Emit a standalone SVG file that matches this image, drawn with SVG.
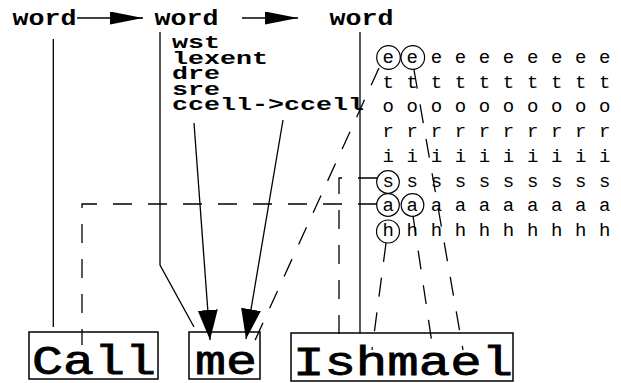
<svg xmlns="http://www.w3.org/2000/svg" width="621" height="383" viewBox="0 0 621 383">
<defs>
<marker id="ahTop" markerUnits="userSpaceOnUse" markerWidth="34" markerHeight="14" refX="33" refY="6.5" orient="auto"><path d="M0,0 L33,6.5 L0,13 z" fill="#000"/></marker>
<marker id="ahBig" markerUnits="userSpaceOnUse" markerWidth="31" markerHeight="21" refX="30" refY="10" orient="auto"><path d="M0,0 L30,10 L0,20 z" fill="#000"/></marker>
<style>
.w{font-family:"Liberation Mono","Courier New",monospace;font-weight:bold;font-size:22px;fill:#000}
.lab{font-family:"Liberation Mono","Courier New",monospace;font-weight:bold;font-size:18px;fill:#000}
.g{font-family:"Liberation Mono","Courier New",monospace;font-size:19px;fill:#000}
.big{font-family:"Liberation Mono","Courier New",monospace;font-size:40px;fill:#000;stroke:#000;stroke-width:0.8}
.box{fill:none;stroke:#000;stroke-width:1.5}
.ln{fill:none;stroke:#000;stroke-width:1.3}
.da{fill:none;stroke:#000;stroke-width:1.3;stroke-dasharray:19 16}
.c{fill:none;stroke:#000;stroke-width:1.2}
</style>
</defs>
<rect width="621" height="383" fill="#fff"/>
<g id="word1"><text class="w" x="12.5" y="25" textLength="64" lengthAdjust="spacingAndGlyphs">word</text></g>
<g id="word2"><text class="w" x="154.5" y="25" textLength="64" lengthAdjust="spacingAndGlyphs">word</text></g>
<g id="word3"><text class="w" x="329.5" y="25" textLength="64" lengthAdjust="spacingAndGlyphs">word</text></g>
<g id="fields">
<text class="lab" x="172" y="48" textLength="48" lengthAdjust="spacingAndGlyphs">wst</text>
<text class="lab" x="172" y="63.5" textLength="96" lengthAdjust="spacingAndGlyphs">lexent</text>
<text class="lab" x="172" y="79" textLength="48" lengthAdjust="spacingAndGlyphs">dre</text>
<text class="lab" x="172" y="94.5" textLength="48" lengthAdjust="spacingAndGlyphs">sre</text>
<text class="lab" x="172" y="110" textLength="192" lengthAdjust="spacingAndGlyphs">ccell-&gt;ccell</text>
</g>
<g id="grid">
<text class="g" x="382.5" y="63" textLength="228" lengthAdjust="spacing">e e e e e e e e e e</text>
<text class="g" x="382.5" y="88" textLength="228" lengthAdjust="spacing">t t t t t t t t t t</text>
<text class="g" x="382.5" y="112" textLength="228" lengthAdjust="spacing">o o o o o o o o o o</text>
<text class="g" x="382.5" y="137" textLength="228" lengthAdjust="spacing">r r r r r r r r r r</text>
<text class="g" x="382.5" y="162" textLength="228" lengthAdjust="spacing">i i i i i i i i i i</text>
<text class="g" x="382.5" y="187" textLength="228" lengthAdjust="spacing">s s s s s s s s s s</text>
<text class="g" x="382.5" y="211" textLength="228" lengthAdjust="spacing">a a a a a a a a a a</text>
<text class="g" x="382.5" y="236" textLength="228" lengthAdjust="spacing">h h h h h h h h h h</text>
<circle class="c" cx="388.5" cy="57.5" r="11.8"/>
<circle class="c" cx="412.8" cy="57.5" r="11.8"/>
<circle class="c" cx="388" cy="182" r="11.3"/>
<circle class="c" cx="388" cy="205" r="11.3"/>
<circle class="c" cx="412.5" cy="205" r="11.3"/>
<circle class="c" cx="388" cy="231.5" r="11.5"/>
</g>
<g id="box-call"><rect class="box" x="29" y="332" width="129" height="47"/><text class="big" x="32" y="374" textLength="124" lengthAdjust="spacingAndGlyphs">Call</text></g>
<g id="box-me"><rect class="box" x="189" y="332" width="71" height="47"/><text class="big" x="195" y="374" textLength="62" lengthAdjust="spacingAndGlyphs">me</text></g>
<g id="box-ishmael"><rect class="box" x="291" y="333" width="222" height="48"/><text class="big" x="293" y="375" textLength="220" lengthAdjust="spacingAndGlyphs">Ishmael</text></g>
<g id="connectors">
<line class="ln" x1="77" y1="18" x2="143" y2="18" marker-end="url(#ahTop)"/>
<line class="ln" x1="242" y1="18" x2="298" y2="18" marker-end="url(#ahTop)"/>
<line class="ln" x1="53.3" y1="39" x2="53.3" y2="327"/>
<polyline class="ln" points="160,32 160,265 194,327"/>
<line class="ln" x1="360" y1="32" x2="360" y2="333"/>
<line class="ln" x1="194" y1="123" x2="210" y2="340" marker-end="url(#ahBig)"/>
<line class="ln" x1="283" y1="120" x2="246" y2="339" marker-end="url(#ahBig)"/>
<line class="da" x1="379" y1="68" x2="252" y2="347"/>
<line class="da" x1="414" y1="70" x2="463" y2="350"/>
<line class="da" x1="413" y1="216" x2="433" y2="350"/>
<line class="da" x1="386" y1="243" x2="372" y2="350"/>
<polyline class="da" points="377,178 339,178 339,350"/>
<polyline class="da" points="377,204 82,204 82,345"/>
</g>
</svg>
